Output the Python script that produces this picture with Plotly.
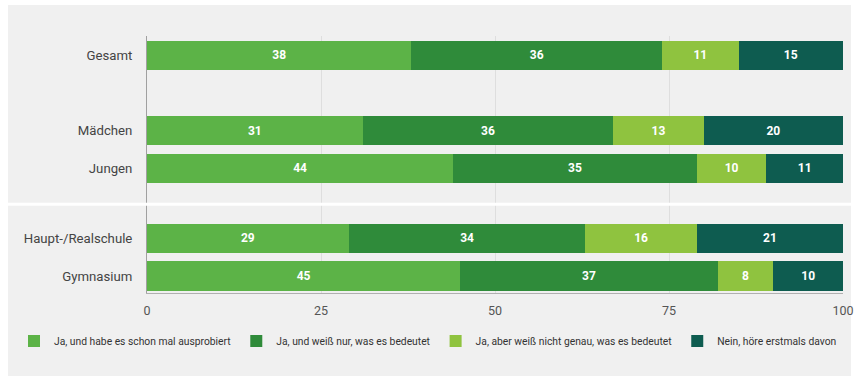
import plotly.graph_objects as go

# ---- data ----
categories = ["Gesamt", "Mädchen", "Jungen", "Haupt-/Realschule", "Gymnasium"]
series_names = [
    "Ja, und habe es schon mal ausprobiert",
    "Ja, und weiß nur, was es bedeutet",
    "Ja, aber weiß nicht genau, was es bedeutet",
    "Nein, höre erstmals davon",
]
tried = [38, 31, 44, 29, 45]
know_only = [36, 36, 35, 34, 37]
not_exactly = [11, 13, 10, 16, 8]
never_heard = [15, 20, 11, 21, 10]
x_ticks = [0, 25, 50, 75, 100]

# ---- layout helpers (row positions with group gaps) ----
row_pos = [5.85, 3.85, 2.85, 1.0, 0.0]
colors = ["#5cb347", "#2f8b3a", "#8fc33f", "#0e5c50"]
values = [tried, know_only, not_exactly, never_heard]

W, H = 857, 376
L, R, T, B = 147, 14, 36, 83
PW, PH = W - L - R, H - T - B

fig = go.Figure()
for name, vals, col in zip(series_names, values, colors):
    fig.add_trace(go.Bar(
        y=row_pos, x=vals, name=name, orientation="h",
        marker=dict(color=col, line=dict(width=0)),
        width=0.77,
        text=[str(v) for v in vals], textposition="inside",
        insidetextanchor="middle",
        textfont=dict(color="white", size=12, family="Roboto", weight="bold"),
        hoverinfo="skip",
    ))

fig.update_layout(
    barmode="stack",
    width=W, height=H,
    margin=dict(l=L, r=R, t=T, b=B, autoexpand=False),
    paper_bgcolor="white",
    plot_bgcolor="rgba(0,0,0,0)",
    font=dict(family="Roboto", color="#444444"),
    showlegend=True,
    legend=dict(
        orientation="h", x=(14 - L) / PW, xanchor="left",
        y=-(48) / PH, yanchor="middle",
        font=dict(size=10.3, color="#333333"), bgcolor="rgba(0,0,0,0)",
        traceorder="normal",
    ),
    xaxis=dict(
        range=[0, 100], tickvals=x_ticks, ticktext=[str(t) for t in x_ticks],
        showgrid=True, gridcolor="#dedede", gridwidth=1,
        showline=True, linecolor="#b0b0b0", linewidth=1,
        zeroline=False, tickfont=dict(size=12.5, color="#555555"),
        ticks="", ticklabelstandoff=6, ticklabeloverflow="allow",
    ),
    yaxis=dict(
        range=[-0.45, 6.36], tickvals=row_pos, ticktext=categories,
        showgrid=False, zeroline=False,
        showline=True, linecolor="#a0a0a0", linewidth=1,
        tickfont=dict(size=13.2, color="#444444"),
        ticks="", ticklabelstandoff=11,
    ),
    shapes=[
        dict(type="rect", xref="paper", yref="paper",
             x0=(8 - L) / PW, x1=(851 - L) / PW, y0=-B / PH, y1=(H - 5 - B) / PH,
             fillcolor="#f0f0f0", line=dict(width=0), layer="below"),
        dict(type="line", xref="paper", yref="y",
             x0=(8 - L) / PW, x1=(851 - L) / PW, y0=1.9, y1=1.9,
             line=dict(color="white", width=3), layer="above"),
    ],
)

fig.write_html(
    "out.html",
    config={"displayModeBar": False},
    post_script="document.body.style.margin='0';document.body.style.overflow='hidden';",
)
